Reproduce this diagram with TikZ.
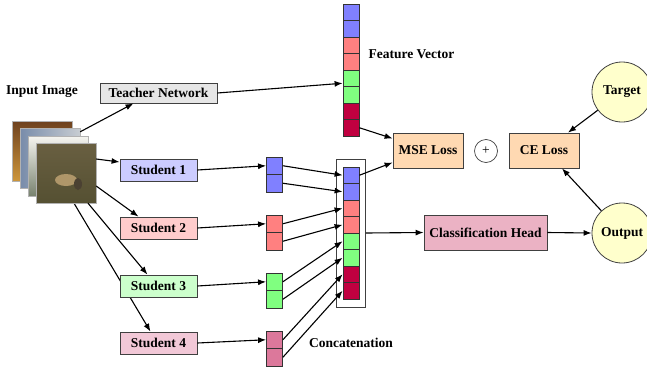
\documentclass[tikz,border=0pt]{standalone}
\usepackage{fontspec}
\setmainfont{Liberation Serif}
\usepackage{tikz}
\usetikzlibrary{positioning, fit, shapes, arrows, arrows.meta, backgrounds}
\definecolor{vblue}{RGB}{128,128,255}
\definecolor{vred}{RGB}{255,128,128}
\definecolor{vgreen}{RGB}{128,255,128}
\definecolor{vcrimson}{RGB}{192,0,64}
\definecolor{vpink}{RGB}{220,120,155}
\definecolor{fillteacher}{RGB}{230,230,230}
\definecolor{fillone}{RGB}{204,204,255}
\definecolor{filltwo}{RGB}{255,204,204}
\definecolor{fillthree}{RGB}{204,255,204}
\definecolor{fillfour}{RGB}{242,200,215}
\definecolor{fillhead}{RGB}{235,178,196}
\definecolor{fillloss}{RGB}{255,217,178}
\definecolor{fillround}{RGB}{255,255,204}
\tikzstyle{bloc}=[rectangle, draw=black!75, line width=0.8pt, inner sep=2pt, font=\bfseries\fontsize{13.5}{15}\selectfont, fill=#1]
\tikzstyle{etudiant}=[bloc=#1, minimum width=77pt, minimum height=22pt]
\tikzstyle{perte}=[bloc=fillloss, minimum width=70pt, minimum height=35pt]
\tikzstyle{rond}=[circle, draw=black!75, line width=0.8pt, fill=fillround, minimum size=60pt, inner sep=0pt, font=\bfseries\fontsize{13.5}{15}\selectfont]
\tikzstyle{cellule}=[rectangle, draw=black!80, line width=0.8pt, minimum width=16pt, minimum height=16.5pt, inner sep=0pt, fill=#1]
\tikzstyle{photo}=[rectangle, minimum size=60pt, inner sep=0pt, draw=black!30, line width=0.4pt]
\tikzstyle{legende}=[font=\bfseries\fontsize{13.5}{15}\selectfont]
\tikzstyle{fleche}=[-{Latex[length=8pt, width=6pt]}, line width=1.1pt]

\begin{document}
\begin{tikzpicture}[x=1pt, y=-1pt]
                \useasboundingbox (0,0) rectangle (647,370);

                % Images d'entree
                \node[legende] (input) at (42,92) {Input Image};
                \node[photo, top color={rgb,255:red,110;green,65;blue,30}, bottom color={rgb,255:red,205;green,150;blue,60}] (img1) at (42,151) {};
                \node[photo, left color={rgb,255:red,120;green,140;blue,170}, right color={rgb,255:red,200;green,205;blue,210}] (img2) at (50,158) {};
                \node[photo, top color={rgb,255:red,245;green,245;blue,240}, bottom color={rgb,255:red,120;green,130;blue,110}] (img3) at (58,166) {};
                \node[photo, top color={rgb,255:red,105;green,95;blue,65}, bottom color={rgb,255:red,85;green,80;blue,50}] (img4) at (66,173) {};
                \fill[color={rgb,255:red,175;green,150;blue,105}] (66,180) ellipse (11pt and 6pt);
                \fill[color={rgb,255:red,75;green,65;blue,50}] (78,184) ellipse (4pt and 6pt);

                % Enseignant et vecteur de caracteristiques
                \node[bloc=fillteacher, minimum width=117pt, minimum height=20pt] (teacher) at (158.5,93) {Teacher Network};
                \foreach \i/\c in {1/vblue,2/vblue,3/vred,4/vred,5/vgreen,6/vgreen,7/vcrimson,8/vcrimson} {
                    \node[cellule=\c] (fv\i) at (351,{4+16.5*(\i-0.5)}) {};
                    \node[cellule=\c] (cv\i) at (351,{167+16.5*(\i-0.5)}) {};
                }
                \node[legende, anchor=west] (fvlabel) at (365,54) {Feature Vector};

                % Etudiants
                \node[etudiant=fillone] (s1) at (158.5,170) {Student 1};
                \node[etudiant=filltwo] (s2) at (158.5,228) {Student 2};
                \node[etudiant=fillthree] (s3) at (158.5,286) {Student 3};
                \node[etudiant=fillfour] (s4) at (158.5,343) {Student 4};
                \foreach \k/\c/\t in {1/vblue/157,2/vred/215,3/vgreen/273,4/vpink/331} {
                    \node[cellule=\c, minimum height=17.5pt] (v\k a) at (274.5,{\t+8.75}) {};
                    \node[cellule=\c, minimum height=17.5pt] (v\k b) at (274.5,{\t+26.25}) {};
                }

                % Concatenation
                \node[draw=black!75, line width=0.8pt, inner xsep=6pt, inner ysep=7.5pt, fit=(cv1)(cv8)] (concat) {};
                \node[legende] (concatlabel) at (351,343) {Concatenation};

                % Pertes et sortie
                \node[perte] (mse) at (428,150.5) {MSE Loss};
                \node[circle, draw=black!75, line width=0.7pt, minimum size=23pt, inner sep=0pt, font=\fontsize{13.5}{15}\selectfont] (plus) at (486,151) {+};
                \node[perte] (ce) at (544,150.5) {CE Loss};
                \node[bloc=fillhead, minimum width=123pt, minimum height=35pt] (head) at (485.5,232.5) {Classification Head};
                \node[rond] (target) at (622,92) {Target};
                \node[rond] (output) at (622,233) {Output};

                % Connexions depuis l'image
                \draw[fleche] ([yshift=-4pt]img2.north east) -- ([xshift=-25pt]teacher.south);
                \draw[fleche] ([yshift=14pt]img4.east) -- ([yshift=8pt]s1.west);
                \draw[fleche] ([yshift=-13pt]img4.east) -- ([xshift=-20pt]s2.north);
                \draw[fleche] ([xshift=22pt]img4.south) -- ([xshift=-11pt]s3.north);
                \begin{pgfonlayer}{background}
                    \draw[fleche] ([xshift=8pt]img4.south) -- ([xshift=-8pt]s4.north);
                \end{pgfonlayer}

                % Vecteurs des etudiants vers la concatenation
                \foreach \k/\a/\b in {1/1/2,2/3/4,3/5/6,4/7/8} {
                    \draw[fleche] (s\k.east) -- (v\k a.west);
                    \draw[fleche] (v\k a.east) -- (cv\a.west);
                    \draw[fleche] (v\k b.east) -- (cv\b.west);
                }

                % Pertes
                \draw[fleche] (teacher.east) -- ([yshift=-5pt]fv5.west);
                \draw[fleche] (fv8.east) -- ([yshift=12pt]mse.west);
                \draw[fleche] (cv1.east) -- ([yshift=-12pt]mse.west);
                \draw[fleche] (concat.east) -- (head.west);
                \draw[fleche] (head.east) -- (output.west);
                \draw[fleche] (target) -- ([xshift=24pt]ce.north);
                \draw[fleche] (output) -- ([xshift=18pt]ce.south);
\end{tikzpicture}
\end{document}
